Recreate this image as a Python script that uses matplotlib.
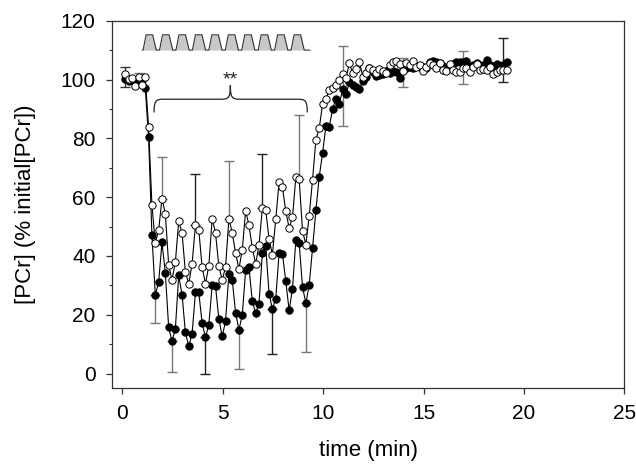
import numpy as np
import matplotlib
matplotlib.use("Agg")
import matplotlib.pyplot as plt
from matplotlib.path import Path
from matplotlib.patches import PathPatch

plt.rcParams['font.family'] = ['Liberation Sans', 'DejaVu Sans']

# sampling: one spectrum every 10 s, starting at ~0.14 min
t0 = 0.14
dt = 1 / 6

# open circles
pcr_open = [101.9, 100.2, 100.5, 97.8, 100.8, 98.2, 100.8, 83.8, 57.3, 44.4,
            48.7, 59.5, 54.4, 37.0, 31.9, 37.9, 51.8, 47.8, 34.5, 30.6,
            37.4, 50.4, 48.9, 36.1, 30.6, 36.6, 52.7, 47.8, 36.5, 31.9,
            36.2, 52.7, 47.8, 41.0, 35.6, 42.1, 55.4, 50.4, 42.7, 37.3,
            43.8, 56.2, 55.5, 45.9, 40.4, 52.5, 65.3, 63.3, 55.2, 49.5,
            53.1, 66.7, 66.1, 48.6, 43.8, 53.7, 66.0, 79.5, 83.5, 91.7,
            93.3, 96.5, 97.1, 98.2, 99.9, 101.9, 100.5, 105.5, 102.1, 103.5,
            106.1, 101.0, 102.3, 104.0, 103.3, 102.1, 103.5, 103.0, 102.1, 105.0,
            106.1, 106.4, 105.2, 103.0, 105.5, 105.0, 106.4, 104.3, 104.8, 102.9,
            104.3, 105.5, 105.0, 103.8, 105.5, 103.3, 103.0, 105.2, 103.3, 102.5,
            102.7, 104.0, 104.0, 102.7, 104.3, 105.2, 103.3, 103.5, 103.3, 104.3,
            101.8, 102.7, 103.3, 103.4, 103.4]

# filled circles
pcr_filled = [100.2, 99.5, 99.8, 99.0, 99.2, 99.8, 97.1, 80.3, 47.0, 26.8,
              31.0, 44.6, 34.2, 15.7, 11.0, 15.2, 33.4, 26.8, 14.0, 9.3,
              13.5, 27.6, 27.6, 17.2, 12.3, 16.6, 30.0, 29.7, 18.6, 12.7,
              17.8, 34.0, 31.9, 20.6, 14.9, 20.0, 35.1, 36.1, 24.6, 20.6,
              23.8, 41.0, 43.3, 27.1, 22.0, 25.5, 41.0, 40.8, 31.4, 21.5,
              28.8, 45.3, 44.4, 29.4, 24.0, 30.2, 42.7, 55.5, 67.0, 75.0,
              84.3, 84.0, 90.0, 93.5, 91.7, 96.7, 95.0, 99.0, 98.2, 97.4,
              96.7, 99.5, 100.7, 104.0, 102.7, 101.2, 101.5, 102.0, 103.0, 102.1,
              103.0, 102.5, 100.6, 103.3, 104.0, 104.3, 104.0, 104.6, 104.2, 104.2,
              104.0, 106.1, 106.4, 105.9, 105.5, 104.7, 104.0, 104.3, 105.2, 105.9,
              106.1, 105.9, 106.4, 104.3, 104.9, 105.7, 104.3, 104.9, 106.8, 105.0,
              104.5, 105.4, 104.0, 104.8, 106.0]

time_min = t0 + np.arange(len(pcr_open)) * dt

# error bars: sample index, bottom end, top end, colour
err_idx = [0, 4, 9, 11, 14, 21, 24, 31, 34, 41, 44, 52, 54, 65, 83, 101, 113]
err_low = [97.4, 98.0, 17.2, 59.5, 0.6, 50.4, 0.0, 52.7, 1.7, 56.2, 6.6, 66.1, 7.3, 84.3, 97.6, 98.5, 99.1]
err_high = [104.2, 102.3, 26.8, 73.6, 11.0, 67.9, 12.3, 72.3, 14.9, 74.7, 22.0, 88.1, 24.0, 111.4, 107.4, 109.8, 114.0]
err_col = ['#333333', '#777777', '#777777', '#777777', '#777777', '#222222', '#222222',
           '#777777', '#777777', '#222222', '#222222', '#777777', '#777777',
           '#777777', '#777777', '#777777', '#222222']

fig = plt.figure(figsize=(6.36, 4.65), dpi=100)
ax = fig.add_axes([0.1766, 0.1649, 0.9816 - 0.1766, 0.9555 - 0.1649])

# error bars under the markers
for i, lo, hi, c in zip(err_idx, err_low, err_high, err_col):
    x = time_min[i]
    ax.errorbar([x], [(lo + hi) / 2], yerr=[[(hi - lo) / 2], [(hi - lo) / 2]],
                fmt='none', ecolor=c, elinewidth=1.0, capsize=3.3, capthick=1.0, zorder=2)

ax.plot(time_min, pcr_filled, '-', color='black', lw=0.8, zorder=3)
ax.plot(time_min, pcr_filled, 'o', ms=5.3, mfc='black', mec='black', mew=0.7, zorder=4)
ax.plot(time_min, pcr_open, '-', color='black', lw=0.8, zorder=5)
ax.plot(time_min, pcr_open, 'o', ms=5.3, mfc='white', mec='black', mew=0.7, zorder=6)

# stimulation pulse train
stim_start, stim_end, n_pulses = 1.0, 9.34, 10
base, top = 110.0, 115.2
period = (stim_end - stim_start - 0.15) / n_pulses
px, py = [], []
for k in range(n_pulses):
    s = stim_start + k * period
    px += [s, s + 0.04 * period, s + 0.22 * period, s + 0.62 * period, s + 0.84 * period]
    py += [base, base, top, top, base]
px += [stim_end]
py += [base]
ax.fill_between(px, base, py, color='#c8c8c8', lw=0, zorder=2)
ax.plot(px, py, color='#333333', lw=0.8, zorder=3)

# curly brace with significance stars
x0, x1, xc = 1.58, 9.21, 5.38
yb, yt, yp = 88.8, 93.3, 98.0
r = 0.45
verts = [(x0, yb), (x0, yt - 0.5), (x0 + 0.1, yt), (x0 + r, yt),
         (xc - r, yt),
         (xc - 0.08, yt), (xc, yt + 0.6), (xc, yp),
         (xc, yt + 0.6), (xc + 0.08, yt), (xc + r, yt),
         (x1 - r, yt),
         (x1 - 0.1, yt), (x1, yt - 0.5), (x1, yb)]
codes = [Path.MOVETO, Path.CURVE4, Path.CURVE4, Path.CURVE4,
         Path.LINETO,
         Path.CURVE4, Path.CURVE4, Path.CURVE4,
         Path.CURVE4, Path.CURVE4, Path.CURVE4,
         Path.LINETO,
         Path.CURVE4, Path.CURVE4, Path.CURVE4]
ax.add_patch(PathPatch(Path(verts, codes), fill=False, lw=0.9, color='#222222', zorder=3))
ax.text(xc, 97.0, '**', ha='center', va='bottom', fontsize=14, color='#222222')

ax.set_xlim(-0.5, 25)
ax.set_ylim(-5, 120)
ax.set_xticks([0, 5, 10, 15, 20, 25])
ax.set_yticks([0, 20, 40, 60, 80, 100, 120])
ax.set_yticks(np.arange(10, 120, 20), minor=True)
ax.tick_params(axis='both', which='major', direction='out', length=4, width=0.9,
               labelsize=15, color='#333333')
ax.tick_params(axis='x', pad=7)
ax.tick_params(axis='y', pad=8)
ax.tick_params(axis='y', which='minor', direction='out', length=2.5, width=0.8, color='#333333')
for sp in ax.spines.values():
    sp.set_linewidth(0.9)
    sp.set_color('#333333')

ax.set_xlabel('time (min)', fontsize=16)
ax.set_ylabel('[PCr] (% initial[PCr])', fontsize=16)
ax.xaxis.set_label_coords(0.5, -0.14)
ax.yaxis.set_label_coords(-0.15, 0.5)

fig.savefig('out.png', dpi=100)
